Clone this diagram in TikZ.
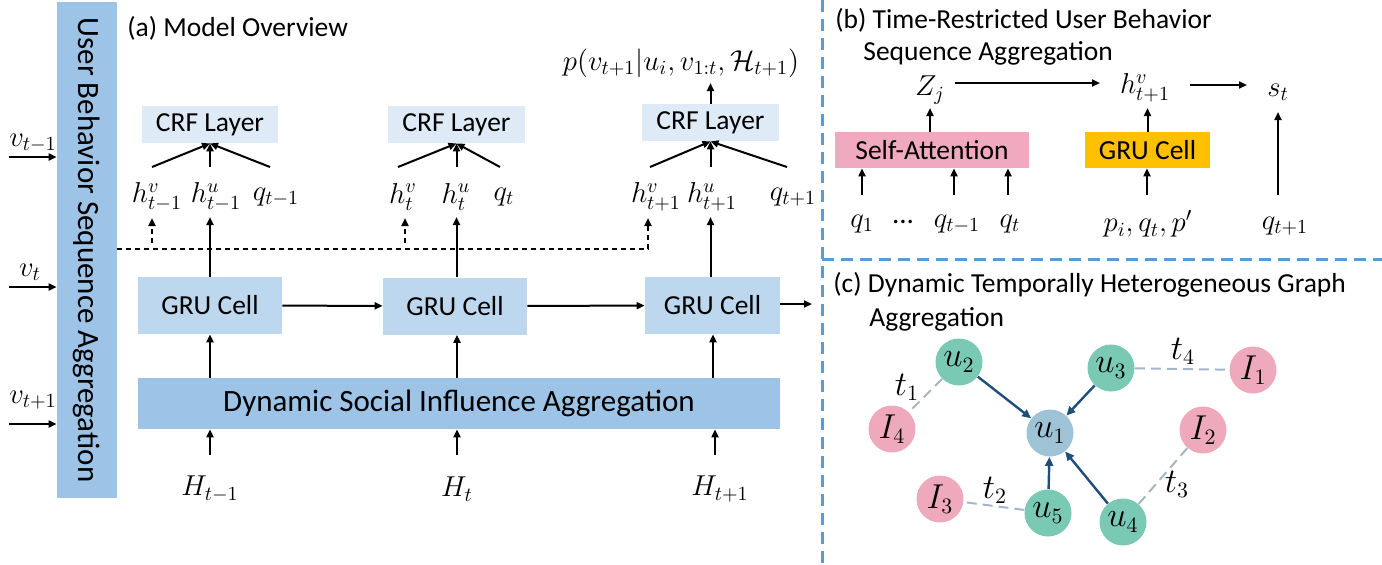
\documentclass[tikz,border=0pt]{standalone}
\usepackage{fontspec}
\setmainfont{Carlito}
\usetikzlibrary{arrows.meta,calc}
\definecolor{barblue}{HTML}{9DC3E6}
\definecolor{grublue}{HTML}{BDD7EE}
\definecolor{crfblue}{HTML}{DEEBF7}
\definecolor{sapink}{HTML}{F0A9BE}
\definecolor{gruorange}{HTML}{FFC000}
\definecolor{sepblue}{HTML}{5B9BD5}
\definecolor{ugreen}{HTML}{79C9B4}
\definecolor{ipink}{HTML}{EFA9BD}
\definecolor{ublue}{HTML}{9EC3D6}
\definecolor{edgeblue}{HTML}{1F4E79}
\definecolor{tgray}{HTML}{A5B5C8}
\begin{document}
\begin{tikzpicture}[x=0.5pt,y=-0.5pt, font=\fontsize{13.75pt}{16pt}\selectfont,
 box/.style={rectangle, inner sep=0pt, draw=none},
 bigtxt/.style={font=\fontsize{15.5pt}{18pt}\selectfont},
 lbl/.style={inner sep=0pt, font=\fontsize{14.5pt}{17pt}\selectfont},
 glbl/.style={inner sep=0pt, font=\fontsize{16pt}{18pt}\selectfont},
 ttl/.style={anchor=west, inner sep=0pt},
 arr/.style={line width=1pt, -{Triangle[length=4pt,width=3.5pt]}},
 darr/.style={arr, dash pattern=on 2.5pt off 2pt},
 sep/.style={sepblue, line width=1.5pt, dash pattern=on 6pt off 3.5pt},
 gnode/.style={circle, minimum size=23.5pt, inner sep=0pt, font=\fontsize{16pt}{18pt}\selectfont},
 tedge/.style={tgray, line width=1pt, dash pattern=on 5pt off 3pt},
 uedge/.style={edgeblue, line width=1.2pt, -{Triangle[length=4.5pt,width=4pt]}}
]
\useasboundingbox (0,0) rectangle (1382,564);

% ---------- (a) ----------
\node[box, bigtxt, fill=barblue, minimum width=248pt, minimum height=30pt, rotate=-90] (bar) at (87,250) {User Behavior Sequence Aggregation};
\node[ttl] (ta) at (127,28) {(a) Model Overview};

\node[lbl] (vl1) at (33,143) {$v_{t-1}$};
\node[lbl] (vl2) at (30,272) {$v_{t}$};
\node[lbl] (vl3) at (33,400) {$v_{t+1}$};
\coordinate (vin1) at (9,157);
\coordinate (vin2) at (9,287);
\coordinate (vin3) at (9,424);
\draw[arr] (vin1) -- (vin1 -| bar.south);
\draw[arr] (vin2) -- (vin2 -| bar.south);
\draw[arr] (vin3) -- (vin3 -| bar.south);

\node[box, fill=crfblue, minimum width=68pt, minimum height=18.5pt] (crf1) at (210,124.5) {CRF Layer};
\node[box, fill=crfblue, minimum width=68.5pt, minimum height=18.5pt] (crf2) at (456.5,124.5) {CRF Layer};
\node[box, fill=crfblue, minimum width=68.5pt, minimum height=18.5pt] (crf3) at (710.5,122.5) {CRF Layer};

\node[lbl] (pl) at (681,63) {$p(v_{t+1}|u_i,v_{1:t},\mathcal{H}_{t+1})$};
\draw[arr] (crf3.north) -- ($(pl -| crf3.north)+(0,20)$);

\node[lbl] (hv1) at (157,197) {$h^{v}_{t-1}$};
\node[lbl] (hu1) at (216,197) {$h^{u}_{t-1}$};
\node[lbl] (qa1) at (276,197) {$q_{t-1}$};
\node[lbl] (hv2) at (403,197) {$h^{v}_{t}$};
\node[lbl] (hu2) at (456,197) {$h^{u}_{t}$};
\node[lbl] (qa2) at (504,197) {$q_{t}$};
\node[lbl] (hv3) at (656,197) {$h^{v}_{t+1}$};
\node[lbl] (hu3) at (712,197) {$h^{u}_{t+1}$};
\node[lbl] (qa3) at (793,197) {$q_{t+1}$};

\draw[arr] ($(hv1)+(-5,-30)$) -- (crf1.south);
\draw[arr] ($(hu1 -| crf1.south)+(0,-30)$) -- (crf1.south);
\draw[arr] ($(qa1)+(-6,-30)$) -- (crf1.south);
\draw[arr] ($(hv2)+(-5,-30)$) -- (crf2.south);
\draw[arr] ($(hu2 -| crf2.south)+(0,-30)$) -- (crf2.south);
\draw[arr] ($(qa2)+(-4,-30)$) -- (crf2.south);
\draw[arr] ($(hv3)+(-6,-30)$) -- (crf3.south);
\draw[arr] ($(hu3 -| crf3.south)+(0,-30)$) -- (crf3.south);
\draw[arr] ($(qa3)+(-6,-30)$) -- (crf3.south);

\node[box, fill=grublue, minimum width=72pt, minimum height=28.5pt] (gru1) at (210,305.5) {GRU Cell};
\node[box, fill=grublue, minimum width=72pt, minimum height=28.5pt] (gru2) at (455,306) {GRU Cell};
\node[box, fill=grublue, minimum width=67.5pt, minimum height=28.5pt] (gru3) at (712.5,305.5) {GRU Cell};
\coordinate (gout) at (812,304);
\draw[arr] (gru1) -- (gru2);
\draw[arr] (gru2) -- (gru3);
\draw[arr] (gru3.east |- gout) -- (gout);

\draw[arr] (gru1.north -| crf1.south) -- ($(hu1 -| crf1.south)+(0,20)$);
\draw[arr] (gru2.north -| crf2.south) -- ($(hu2 -| crf2.south)+(0,20)$);
\draw[arr] (gru3.north -| crf3.south) -- ($(hu3 -| crf3.south)+(0,20)$);

\coordinate (dl) at (117,249);
\draw[darr] (dl) -| ($(hv3)+(-8,21)$);
\draw[darr] ($(dl -| hv1)+(-5,-6)$) -- ($(hv1)+(-5,21)$);
\draw[darr] ($(dl -| hv2)+(2,-6)$) -- ($(hv2)+(2,21)$);

\node[box, bigtxt, fill=barblue, minimum width=321pt, minimum height=25.5pt] (dsia) at (459,403.5) {Dynamic Social Influence Aggregation};
\node[lbl] (H1) at (210,489) {$H_{t-1}$};
\node[lbl] (H2) at (457,489) {$H_{t}$};
\node[lbl] (H3) at (720,489) {$H_{t+1}$};
\draw[arr] (dsia.north -| H1) -- (gru1.south -| H1);
\draw[arr] (dsia.north -| H2) -- (gru2.south -| H2);
\draw[arr] ($(dsia.north -| H3)+(-7,0)$) -- ($(gru3.south -| H3)+(-7,0)$);
\draw[arr] ($(H1)+(0,-34)$) -- (dsia.south -| H1);
\draw[arr] ($(H2)+(0,-34)$) -- (dsia.south -| H2);
\draw[arr] ($(H3)+(-5,-34)$) -- ($(dsia.south -| H3)+(-5,0)$);

% ---------- separators ----------
\coordinate (s1) at (822,0);
\coordinate (s2) at (822,564);
\coordinate (s3) at (822,259);
\coordinate (s4) at (1382,259);
\draw[sep] (s1) -- (s2);
\draw[sep] (s3) -- (s4);

% ---------- (b) ----------
\node[ttl] (tb1) at (835,20) {(b) Time-Restricted User Behavior};
\node[ttl] (tb2) at (863,53) {Sequence Aggregation};

\node[lbl] (zj) at (930,90) {$Z_j$};
\node[lbl] (hvb) at (1145,88) {$h^{v}_{t+1}$};
\node[lbl] (st) at (1278,92) {$s_t$};
\draw[arr] ($(zj)+(25,-7)$) -- ($(hvb)+(-45,-5)$);
\draw[arr] ($(hvb)+(45,-3)$) -- ($(st)+(-31,-7)$);

\node[box, fill=sapink, minimum width=97pt, minimum height=18pt] (sa) at (932,150) {Self-Attention};
\node[box, fill=gruorange, minimum width=62.5pt, minimum height=18pt] (grub) at (1147.5,150) {GRU Cell};
\draw[arr] (sa.north -| zj) -- ($(zj)+(0,18)$);
\draw[arr] (grub.north) -- ($(hvb -| grub.north)+(0,20)$);

\node[lbl] (qb1) at (862,224) {$q_1$};
\node[lbl] (dots) at (903,222) {...};
\node[lbl] (qb2) at (957,224) {$q_{t-1}$};
\node[lbl] (qb3) at (1010,224) {$q_t$};
\node[lbl] (pq) at (1148,224) {$p_i,q_t,p'$};
\node[lbl] (qb4) at (1285,226) {$q_{t+1}$};
\draw[arr] ($(qb1)+(0,-29)$) -- (sa.south -| qb1);
\draw[arr] ($(qb2)+(-3,-29)$) -- ($(sa.south -| qb2)+(-3,0)$);
\draw[arr] ($(qb3)+(-2,-29)$) -- ($(sa.south -| qb3)+(-2,0)$);
\draw[arr] ($(pq)+(-1,-29)$) -- ($(grub.south -| pq)+(-1,0)$);
\draw[arr] ($(qb4 -| st)+(0,-31)$) -- ($(st)+(0,20)$);

% ---------- (c) ----------
\node[ttl] (tc1) at (833,285) {(c) Dynamic Temporally Heterogeneous Graph};
\node[ttl] (tc2) at (869,319) {Aggregation};

\node[gnode, fill=ugreen] (u2) at (959,362) {$u_2$};
\node[gnode, fill=ugreen] (u3) at (1111,368) {$u_3$};
\node[gnode, fill=ipink] (I1) at (1253,370) {$I_1$};
\node[gnode, fill=ipink] (I4) at (892,429) {$I_4$};
\node[gnode, fill=ublue] (u1) at (1050,433) {$u_1$};
\node[gnode, fill=ipink] (I2) at (1203,430) {$I_2$};
\node[gnode, fill=ipink] (I3) at (940,499) {$I_3$};
\node[gnode, fill=ugreen] (u5) at (1048,513) {$u_5$};
\node[gnode, fill=ugreen] (u4) at (1123,522) {$u_4$};

\draw[uedge] (u2) -- (u1);
\draw[uedge] (u3) -- (u1);
\draw[uedge] (u5) -- (u1);
\draw[uedge] (u4) -- (u1);
\draw[tedge] (u2) -- (I4);
\draw[tedge] (u3) -- (I1);
\draw[tedge] (u5) -- (I3);
\draw[tedge] (u4) -- (I2);

\node[glbl] (t1) at (907,387) {$t_1$};
\node[glbl] (t4) at (1183,351) {$t_4$};
\node[glbl] (t2) at (995,490) {$t_2$};
\node[glbl] (t3) at (1177,484) {$t_3$};
\end{tikzpicture}
\end{document}
